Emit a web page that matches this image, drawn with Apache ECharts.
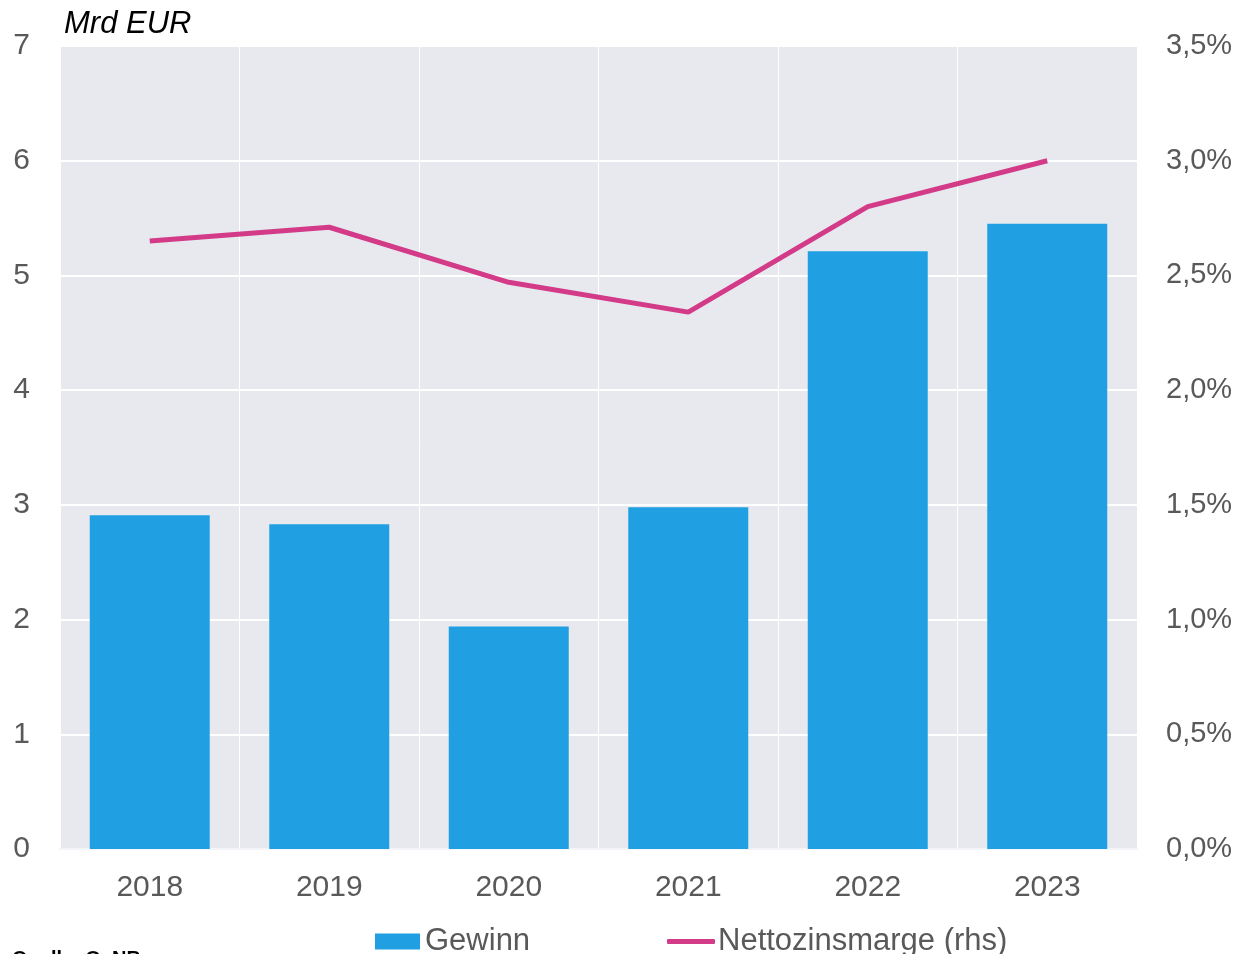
<!DOCTYPE html>
<html><head><meta charset="utf-8">
<script src="https://cdn.jsdelivr.net/npm/echarts@6/dist/echarts.min.js"></script>
<style>html,body{margin:0;padding:0;background:#fff}#c{width:1243px;height:954px}</style>
</head><body><div id="c"></div>
<script>
const categories = ['2018','2019','2020','2021','2022','2023'];
const gewinn = [2.91, 2.83, 1.94, 2.98, 5.21, 5.45];
const marge = [2.65, 2.71, 2.47, 2.34, 2.80, 3.00];
const leftTicks = [0,1,2,3,4,5,6,7];
const rightTicks = ['0,0%','0,5%','1,0%','1,5%','2,0%','2,5%','3,0%','3,5%'];

const chart = echarts.init(document.getElementById('c'), null, {renderer:'canvas'});
const font = 'Liberation Sans, Arial, sans-serif';
const legText = {fontSize:31,color:'#595959',fontFamily:font};
chart.setOption({
  animation:false,
  textStyle:{fontFamily:font},
  grid:{left:60,right:106,top:46,bottom:105,show:true,backgroundColor:'#e7e9ef',borderWidth:0},
  graphic:[
    {type:'text',left:64,top:9,style:{text:'Mrd EUR',font:'italic 31px '+font,fill:'#000'}},
    {type:'text',left:12,top:949,style:{text:'Quelle: OeNB',font:'bold 20px '+font,fill:'#000'}}
  ],
  legend:[
    {top:926,left:375,padding:0,itemGap:0,itemWidth:45,itemHeight:16,textStyle:legText,
     data:[{name:'Gewinn',icon:'rect'}]},
    {top:926,left:667,padding:0,itemGap:0,itemWidth:48,itemHeight:5,textStyle:Object.assign({padding:[0,0,0,-2]},legText),
     data:[{name:'Nettozinsmarge (rhs)',icon:'roundRect'}]}
  ],
  xAxis:{
    type:'category',data:categories,
    axisLine:{show:true,lineStyle:{color:'#f4f5f8',width:2}},axisTick:{show:false},
    axisLabel:{fontSize:30,color:'#595959',margin:24,fontFamily:font},
    splitLine:{show:true,lineStyle:{color:'#ffffff',width:1}}
  },
  yAxis:[
    {type:'value',min:0,max:7,interval:1,
     axisLabel:{fontSize:30,color:'#595959',margin:30,fontFamily:font,formatter:v=>String(leftTicks[Math.round(v)])},
     axisLine:{show:false},axisTick:{show:false},
     splitLine:{lineStyle:{color:'#ffffff',width:2}}},
    {type:'value',min:0,max:3.5,interval:0.5,position:'right',
     axisLabel:{fontSize:29,color:'#595959',margin:29,fontFamily:font,formatter:v=>rightTicks[Math.round(v*2)]},
     axisLine:{show:false},axisTick:{show:false},splitLine:{show:false}}
  ],
  series:[
    {name:'Gewinn',type:'bar',data:gewinn,barWidth:120,itemStyle:{color:'#20a0e2'},yAxisIndex:0},
    {name:'Nettozinsmarge (rhs)',type:'line',data:marge,yAxisIndex:1,symbol:'none',
     lineStyle:{color:'#d33b88',width:5},itemStyle:{color:'#d33b88'}}
  ]
});
</script></body></html>
